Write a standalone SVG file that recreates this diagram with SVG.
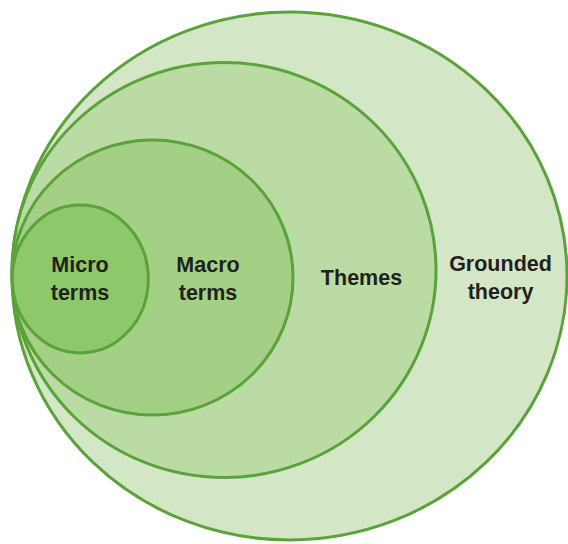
<svg xmlns="http://www.w3.org/2000/svg" width="568" height="544" viewBox="0 0 568 544">
<style>
.ring{stroke:#5aa33a;stroke-width:3}
.lbl{font-family:"Liberation Sans",Arial,sans-serif;font-weight:bold;font-size:21.5px;fill:#231f20;text-anchor:middle}
</style>
<rect width="568" height="544" fill="#ffffff"/>
<g id="grounded-theory">
<ellipse class="ring" cx="289.5" cy="276" rx="277.5" ry="264" fill="#d3e7c6"/>
<text class="lbl" x="500.5" y="270.5">Grounded</text>
<text class="lbl" x="500.5" y="299">theory</text>
</g>
<g id="themes">
<ellipse class="ring" cx="224" cy="270" rx="212" ry="207.5" fill="#badca4"/>
<text class="lbl" x="361.5" y="285">Themes</text>
</g>
<g id="macro-terms">
<ellipse class="ring" cx="152.5" cy="277.5" rx="140.5" ry="137.5" fill="#a4d086"/>
<text class="lbl" x="208" y="271.5">Macro</text>
<text class="lbl" x="208" y="300">terms</text>
</g>
<g id="micro-terms">
<ellipse class="ring" cx="80.3" cy="279" rx="68" ry="74" fill="#8dc86b"/>
<text class="lbl" x="80" y="271.5">Micro</text>
<text class="lbl" x="80" y="299.5">terms</text>
</g>
<g id="connectors"/>
</svg>
